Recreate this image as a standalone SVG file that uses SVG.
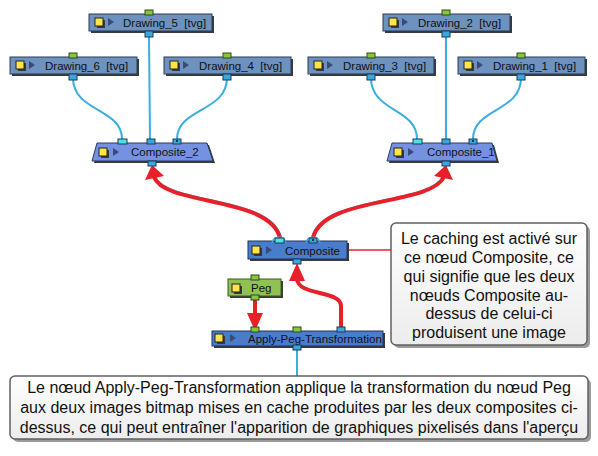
<svg xmlns="http://www.w3.org/2000/svg" width="598" height="456" viewBox="0 0 598 456">
<defs>
<linearGradient id="cg" x1="0" y1="0" x2="0" y2="1"><stop offset="0" stop-color="#ffffff"/><stop offset="1" stop-color="#ececec"/></linearGradient>
</defs>
<style>
.dr{fill:#6e92c0;stroke:#2b3a55;stroke-width:1}
.cp{fill:#7592e2;stroke:#2b3a60;stroke-width:1}
.cm{fill:#4a7ccc;stroke:#22325a;stroke-width:1}
.pg{fill:#8fc153;stroke:#3d5a20;stroke-width:1}
.sh{fill:#3a3a3a}
.ys{fill:#ffe54a;stroke:#222;stroke-width:1}
.tri{fill:#3a4a78}
.pt{fill:#88c63e;stroke:#2d4a18;stroke-width:1}
.pb{fill:#3aa8dc;stroke:#1a3a5a;stroke-width:1}
.pc{fill:#4ee2e2;stroke:#1a3a5a;stroke-width:1}
.t{font-family:"Liberation Sans",Arial,sans-serif;font-size:11.5px;fill:#111;white-space:pre}
.cab{fill:none;stroke:#3aaee0;stroke-width:2}
.red{fill:none;stroke:#e8202a;stroke-width:4}
.ah{fill:#e8202a}
.co{fill:url(#cg);stroke:#606060;stroke-width:1.5}
.cs{fill:#9a9a9a}
.ct{font-family:"Liberation Sans",Arial,sans-serif;font-size:16px;fill:#111;text-anchor:middle}
</style>
<g id="connectors">
<path class="cab" d="M73,78 C73,112 122,108 122,139"/>
<path class="cab" d="M227,78 C227,112 177,108 177,139"/>
<path class="cab" d="M149,36 L150,139"/>
<path class="cab" d="M371,78 C371,112 417,108 417,139"/>
<path class="cab" d="M521,78 C521,112 473,108 473,139"/>
<path class="cab" d="M446,36 L446,139"/>
<path class="cab" d="M297,350 L297,376"/>
<path class="cab" style="stroke-width:1.5" d="M280,238 C270,196 165,206 154,177" transform="translate(1,-1)"/>
<path class="cab" style="stroke-width:1.5" d="M313,238 C323,196 430,206 444,177" transform="translate(-1,-1)"/>
<path class="red" d="M280,238 C270,196 165,206 154,177"/>
<polygon class="ah" points="152,165 164,176 145,180"/>
<path class="red" d="M313,238 C323,196 430,206 444,177"/>
<polygon class="ah" points="446,165 434,176 453,180"/>
<path class="red" d="M255,297 L255,315"/>
<polygon class="ah" points="255,331 247,313 263,313"/>
<path class="red" d="M341,329 L341,306 C341,290 298,296 297,279"/>
<polygon class="ah" points="297,263 289,281 305,281"/>
<path d="M348,250 L392,250" stroke="#e8202a" stroke-width="1.5" fill="none"/>
</g>
<g id="Drawing_5">
<rect class="sh" x="91" y="16" width="123" height="17"/>
<rect class="dr" x="89" y="14" width="123" height="17"/>
<rect class="sh" x="97" y="20" width="8" height="8"/><rect class="ys" x="95" y="18" width="8" height="8"/>
<path class="tri" d="M108,18 L114,22 L108,26 z"/>
<text class="t" x="123" y="27">Drawing_5  [tvg]</text>
<rect class="pt" x="145" y="10" width="8" height="5"/>
<rect class="pb" x="145" y="31" width="8" height="6"/>
</g>
<g id="Drawing_2">
<rect class="sh" x="385" y="16" width="127" height="17"/>
<rect class="dr" x="383" y="14" width="127" height="17"/>
<rect class="sh" x="391" y="20" width="8" height="8"/><rect class="ys" x="389" y="18" width="8" height="8"/>
<path class="tri" d="M402,18 L408,22 L402,26 z"/>
<text class="t" x="418" y="27">Drawing_2  [tvg]</text>
<rect class="pt" x="442" y="10" width="8" height="5"/>
<rect class="pb" x="442" y="31" width="8" height="6"/>
</g>
<g id="Drawing_6">
<rect class="sh" x="12" y="59" width="127" height="17"/>
<rect class="dr" x="10" y="57" width="127" height="17"/>
<rect class="sh" x="18" y="63" width="8" height="8"/><rect class="ys" x="16" y="61" width="8" height="8"/>
<path class="tri" d="M29,61 L35,65 L29,69 z"/>
<text class="t" x="45" y="70">Drawing_6  [tvg]</text>
<rect class="pt" x="69" y="53" width="8" height="5"/>
<rect class="pb" x="69" y="74" width="8" height="6"/>
</g>
<g id="Drawing_4">
<rect class="sh" x="166" y="59" width="127" height="17"/>
<rect class="dr" x="164" y="57" width="127" height="17"/>
<rect class="sh" x="172" y="63" width="8" height="8"/><rect class="ys" x="170" y="61" width="8" height="8"/>
<path class="tri" d="M183,61 L189,65 L183,69 z"/>
<text class="t" x="199" y="70">Drawing_4  [tvg]</text>
<rect class="pt" x="223" y="53" width="8" height="5"/>
<rect class="pb" x="223" y="74" width="8" height="6"/>
</g>
<g id="Drawing_3">
<rect class="sh" x="310" y="59" width="126" height="17"/>
<rect class="dr" x="308" y="57" width="126" height="17"/>
<rect class="sh" x="316" y="63" width="8" height="8"/><rect class="ys" x="314" y="61" width="8" height="8"/>
<path class="tri" d="M327,61 L333,65 L327,69 z"/>
<text class="t" x="343" y="70">Drawing_3  [tvg]</text>
<rect class="pt" x="367" y="53" width="8" height="5"/>
<rect class="pb" x="367" y="74" width="8" height="6"/>
</g>
<g id="Drawing_1">
<rect class="sh" x="460" y="59" width="127" height="17"/>
<rect class="dr" x="458" y="57" width="127" height="17"/>
<rect class="sh" x="466" y="63" width="8" height="8"/><rect class="ys" x="464" y="61" width="8" height="8"/>
<path class="tri" d="M477,61 L483,65 L477,69 z"/>
<text class="t" x="493" y="70">Drawing_1  [tvg]</text>
<rect class="pt" x="517" y="53" width="8" height="5"/>
<rect class="pb" x="517" y="74" width="8" height="6"/>
</g>
<g id="Composite_2">
<path class="sh" d="M99,145 L209,145 L215,163 L94,163 z"/>
<path class="cp" d="M97,143 L207,143 L213,161 L92,161 z"/>
<rect class="sh" x="101" y="150" width="8" height="8"/><rect class="ys" x="99" y="148" width="8" height="8"/>
<path class="tri" d="M113,148 L119,152 L113,156 z"/>
<text class="t" x="131" y="156">Composite_2</text>
<rect class="pc" x="118" y="139" width="9" height="5"/>
<rect class="pb" x="147" y="139" width="8" height="5"/>
<rect class="pb" x="173" y="139" width="8" height="5"/><rect x="176" y="140" width="2" height="2" fill="#1a3a5a"/>
<rect class="pb" x="148" y="161" width="8" height="5"/>
</g>
<g id="Composite_1">
<path class="sh" d="M394,145 L494,145 L499,163 L389,163 z"/>
<path class="cp" d="M392,143 L492,143 L497,161 L387,161 z"/>
<rect class="sh" x="396" y="150" width="8" height="8"/><rect class="ys" x="394" y="148" width="8" height="8"/>
<path class="tri" d="M408,148 L414,152 L408,156 z"/>
<text class="t" x="427" y="156">Composite_1</text>
<rect class="pc" x="413" y="139" width="9" height="5"/>
<rect class="pb" x="442" y="139" width="8" height="5"/>
<rect class="pb" x="469" y="139" width="8" height="5"/><rect x="472" y="140" width="2" height="2" fill="#1a3a5a"/>
<rect class="pb" x="442" y="161" width="8" height="5"/>
</g>
<g id="Composite">
<rect class="sh" x="250" y="243" width="99" height="18"/>
<rect class="cm" x="248" y="241" width="99" height="18"/>
<rect class="sh" x="254" y="248" width="8" height="8"/><rect class="ys" x="252" y="246" width="8" height="8"/>
<path class="tri" d="M266,246 L272,250 L266,254 z"/>
<text class="t" x="285" y="255">Composite</text>
<path d="M272,243 A7,6 0 0 1 286,243" fill="none" stroke="#3aaee0" stroke-width="1.2"/>
<path d="M306,243 A7,6 0 0 1 320,243" fill="none" stroke="#3aaee0" stroke-width="1.2"/>
<rect class="pc" x="275" y="238" width="9" height="5"/>
<rect class="pb" x="309" y="238" width="8" height="5"/><rect x="312" y="239" width="2" height="2" fill="#1a3a5a"/>
<rect class="pb" x="293" y="259" width="8" height="5"/>
</g>
<g id="Peg">
<rect class="sh" x="230" y="281" width="53" height="17"/>
<rect class="pg" x="228" y="279" width="53" height="17"/>
<rect class="sh" x="234" y="286" width="8" height="8"/><rect class="ys" x="232" y="284" width="8" height="8"/>
<text class="t" x="251" y="292">Peg</text>
<rect class="pt" x="251" y="275" width="8" height="5"/>
<rect class="pt" x="251" y="295" width="8" height="5"/>
</g>
<g id="Apply-Peg-Transformation">
<rect class="sh" x="214" y="333" width="171" height="15"/>
<rect class="cm" x="212" y="331" width="171" height="15"/>
<rect class="sh" x="217" y="336" width="8" height="8"/><rect class="ys" x="215" y="334" width="8" height="8"/>
<path class="tri" d="M230,334 L236,338 L230,342 z"/>
<text class="t" x="248" y="343">Apply-Peg-Transformation</text>
<rect class="pt" x="251" y="327" width="8" height="5"/>
<rect class="pt" x="293" y="327" width="8" height="5"/>
<rect class="pb" x="337" y="327" width="8" height="5"/>
<rect class="pb" x="293" y="345" width="8" height="5"/>
</g>
<g id="callout_caching">
<rect class="cs" x="394" y="226" width="196" height="122" rx="5"/>
<rect class="co" x="391" y="223" width="196" height="122" rx="5"/>
<text class="ct" x="489" y="244">Le caching est activé sur</text>
<text class="ct" x="489" y="263">ce nœud Composite, ce</text>
<text class="ct" x="489" y="282">qui signifie que les deux</text>
<text class="ct" x="489" y="301">nœuds Composite au-</text>
<text class="ct" x="489" y="319">dessus de celui-ci</text>
<text class="ct" x="489" y="338">produisent une image</text>
</g>
<g id="callout_apply">
<rect class="cs" x="13" y="379" width="578" height="63" rx="5"/>
<rect class="co" x="10" y="376" width="578" height="63" rx="5"/>
<text class="ct" x="299" y="393">Le nœud Apply-Peg-Transformation applique la transformation du nœud Peg</text>
<text class="ct" x="299" y="413">aux deux images bitmap mises en cache produites par les deux composites ci-</text>
<text class="ct" x="299" y="433">dessus, ce qui peut entraîner l'apparition de graphiques pixelisés dans l'aperçu</text>
</g>
</svg>
